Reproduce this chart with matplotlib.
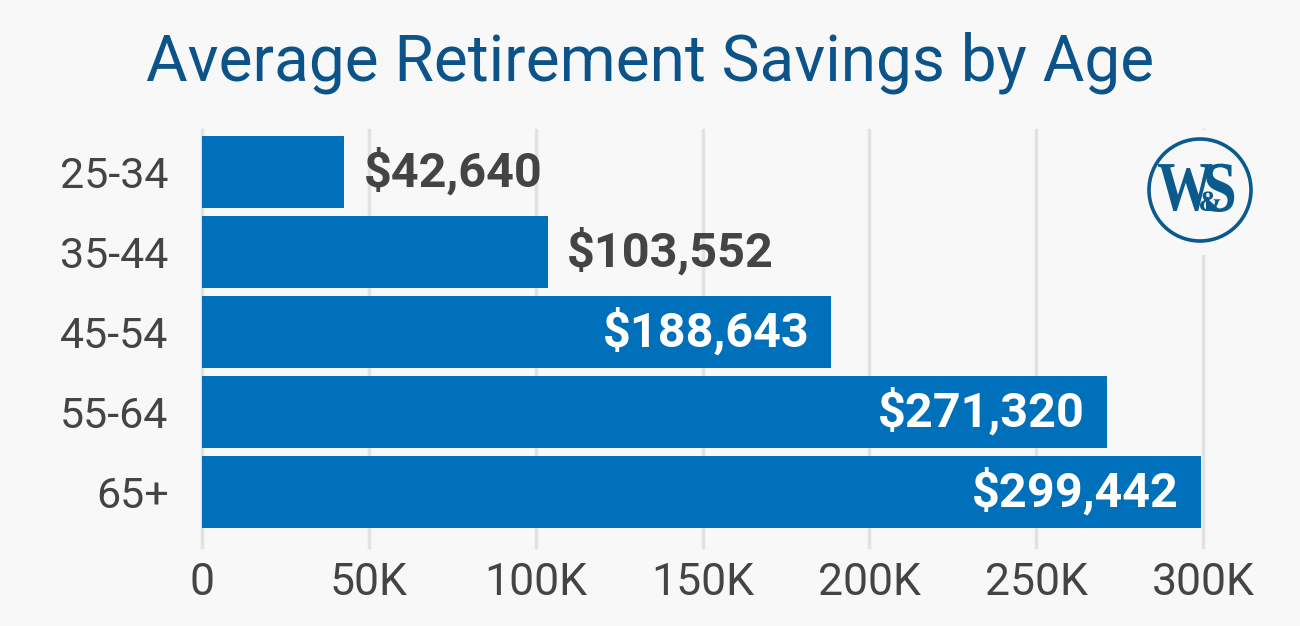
import matplotlib
matplotlib.use("Agg")
import matplotlib.pyplot as plt
from matplotlib.patches import Circle, Rectangle, PathPatch
from matplotlib.textpath import TextPath
from matplotlib.font_manager import FontProperties
from matplotlib.transforms import Affine2D, IdentityTransform

categories = ["25-34", "35-44", "45-54", "55-64", "65+"]
values = [42640, 103552, 188643, 271320, 299442]
labels = ["$42,640", "$103,552", "$188,643", "$271,320", "$299,442"]
xticks = [0, 50000, 100000, 150000, 200000, 250000, 300000]
xticklabels = ["0", "50K", "100K", "150K", "200K", "250K", "300K"]

BG = "#f8f8f8"
BAR = "#0070ba"
TITLE = "#0b5388"
TXT = "#444444"
LOGO = "#0b5a8e"

plt.rcParams['font.family'] = ['Roboto', 'DejaVu Sans']

W, H = 1300, 626
fig = plt.figure(figsize=(W / 100, H / 100), dpi=100, facecolor=BG)
ax = fig.add_axes([202 / W, 1 - 547 / H, (1203 - 202) / W, (547 - 130) / H])
ax.set_facecolor(BG)

y = list(range(len(categories)))
ax.barh(y, values, height=0.9, color=BAR, zorder=3)
ax.set_ylim(4.6875, -0.525)
ax.set_xlim(0, 300000)
ax.set_yticks(y)
ax.set_yticklabels(categories, fontsize=31, color=TXT)
ax.set_xticks(xticks)
ax.set_xticklabels(xticklabels, fontsize=32, color=TXT)
ax.tick_params(axis='both', length=0)
ax.tick_params(axis='y', pad=24)
ax.tick_params(axis='x', pad=11)
for s in ax.spines.values():
    s.set_visible(False)
ax.grid(axis='x', color="#e2e2e2", linewidth=2.5, zorder=0)
for gl in ax.get_xgridlines():
    gl.set_clip_on(False)

threshold = 150000
for yi, v, lab in zip(y, values, labels):
    if v < threshold:
        ax.annotate(lab, (v, yi), xytext=(14, 0), textcoords='offset points',
                    ha='left', va='center', fontsize=35, fontweight='bold',
                    color=TXT, zorder=5)
    else:
        ax.annotate(lab, (v, yi), xytext=(-16, 0), textcoords='offset points',
                    ha='right', va='center', fontsize=35, fontweight='bold',
                    color='white', zorder=5)

fig.text(0.5, 1 - 80 / H, "Average Retirement Savings by Age", ha='center',
         va='baseline', fontsize=46, color=TITLE)

# logo
cover = Rectangle((1135 / W, 1 - 255 / H), 130 / W, 125 / H, transform=fig.transFigure,
                  facecolor=BG, edgecolor='none', zorder=10)
fig.add_artist(cover)
circ = Circle((1200, H - 190), 51, transform=IdentityTransform(), facecolor='none',
              edgecolor=LOGO, linewidth=2.6, zorder=11)
fig.add_artist(circ)

serif = FontProperties(family=['Liberation Serif', 'DejaVu Serif'], weight='bold')


def logo_glyph(ch, size, sx, left, bottom, z):
    tp = TextPath((0, 0), ch, size=size, prop=serif)
    ext = tp.get_extents()
    tr = (Affine2D().translate(-ext.x0, -ext.y0).scale(sx, 1.0)
          .translate(left, H - bottom))
    patch = PathPatch(tr.transform_path(tp), transform=IdentityTransform(),
                      facecolor=LOGO, edgecolor='none', zorder=z)
    fig.add_artist(patch)


logo_glyph("W", 70, 0.80, 1158, 211, 12)
logo_glyph("S", 72, 0.85, 1206, 212, 12)
logo_glyph("&", 29, 1.0, 1200, 211, 13)

fig.savefig("out.png", dpi=100, facecolor=BG)
